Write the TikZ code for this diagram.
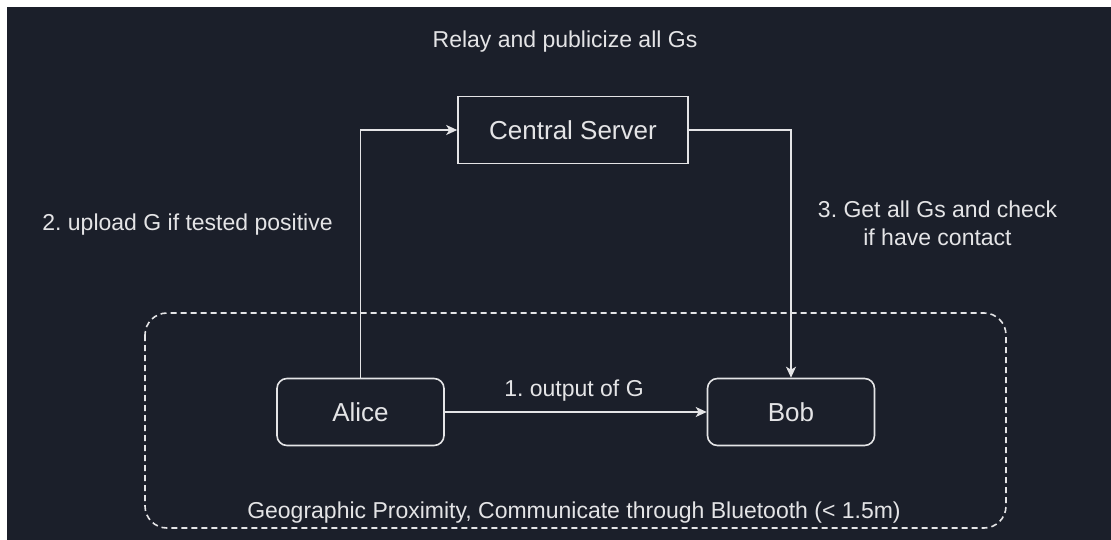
\documentclass[tikz,border=0pt]{standalone}
\usepackage{fontspec}
\setmainfont{Liberation Sans}
\usetikzlibrary{arrows.meta}
\frenchspacing
\definecolor{canvas}{RGB}{27,31,42}
\definecolor{ink}{RGB}{228,228,230}
\tikzset{
  box/.style={draw=ink, line width=1.6pt, minimum width=#1, minimum height=67pt,
    inner sep=0pt, text=ink, font=\fontsize{26}{31}\selectfont},
  box/.default=230pt,
  person/.style={box=167pt, rounded corners=10pt},
  label/.style={text=ink, font=\fontsize{23}{27}\selectfont, inner sep=0pt, anchor=base},
  link/.style={draw=ink, line width=1.6pt, -{Stealth[length=11pt,width=10pt,inset=3pt]}},
  zone/.style={draw=ink, line width=1.6pt, dash pattern=on 6pt off 4pt, rounded corners=22pt}
}
\begin{document}
\begin{tikzpicture}[x=1pt,y=-1pt]
  % page frame: thin white edge, dark canvas
  \fill[white] (0,0) rectangle (1111,540);
  \fill[canvas] (7,7) rectangle (1111,540);
  \useasboundingbox (0,0) rectangle (1111,540);

  % proximity zone
  \draw[zone] (145,313) rectangle (1006,528);

  % parties
  \node[box] (server) at (573,130) {Central Server};
  \node[person] (alice) at (360.5,412) {Alice};
  \node[person] (bob) at (791,412) {Bob};

  % texts
  \node[label] (title) at (565,48) {Relay and publicize all Gs};
  \node[label] (upload) at (187.5,230) {2. upload G if tested positive};
  \node[label] (getall) at (937.5,218) {3. Get all Gs and check};
  \node[label] (contact) at (937.5,245) {if have contact};
  \node[label] (output) at (574,396) {1. output of G};
  \node[label] (geo) at (574,518) {Geographic Proximity, Communicate through Bluetooth (< 1.5m)};

  % flows
  \draw[link] (alice.east) -- (bob.west);
  \draw[link] (alice.north) |- (server.west);
  \draw[link] (server.east) -| (bob.north);
\end{tikzpicture}
\end{document}
